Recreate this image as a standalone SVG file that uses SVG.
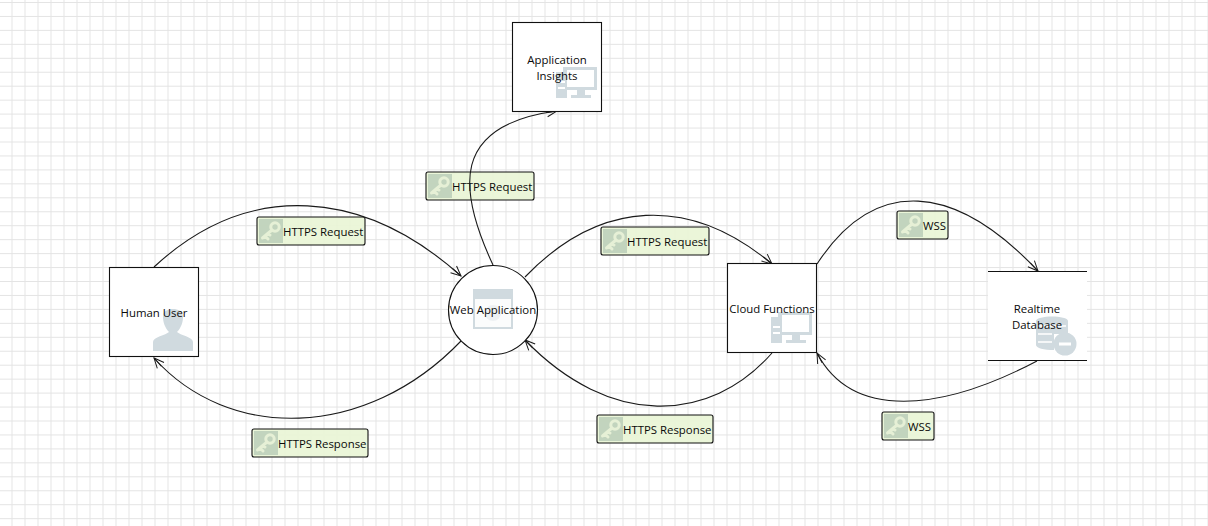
<svg xmlns="http://www.w3.org/2000/svg" width="1208" height="526" viewBox="0 0 1208 526">
<style>
text{font-family:"Segoe UI","Open Sans","Noto Sans","Liberation Sans",sans-serif;font-size:11.4px;fill:#0a0a0a;}
.c{text-anchor:middle}
.n{fill:#fff;stroke:#111;stroke-width:1.1}
.l{fill:#e9f5d6;fill-opacity:.92;stroke:#111;stroke-width:1.1}
.k{fill:#bed0ba;fill-opacity:.9}
.ks{fill:none;stroke:#e6f0d6;stroke-width:3;stroke-linecap:round}
.i{fill:#d0dadf}
.w{fill:#fff}
.ic{filter:url(#b)}
.e{fill:none;stroke:#1a1a1a;stroke-width:1.1;marker-end:url(#a)}
</style>
<defs>
<filter id="b" x="-10%" y="-10%" width="120%" height="120%"><feGaussianBlur stdDeviation="0.6"/></filter>
<pattern id="g" width="13" height="13.95" patternUnits="userSpaceOnUse" x="-0.5" y="2">
<path d="M12.5 0V14M0 0.5H13" fill="none" stroke="#e4e4e4" stroke-width="1"/>
</pattern>
<marker id="a" markerUnits="userSpaceOnUse" markerWidth="14" markerHeight="12" refX="11" refY="5" orient="auto" overflow="visible">
<path d="M1 0.5L11 5L1 9.5M0 5H11" fill="none" stroke="#1a1a1a" stroke-width="1"/>
</marker>
<g id="key">
<rect class="k" width="24" height="24"/>
<g class="ic"><circle cx="16" cy="8" r="4.2" fill="none" stroke="#e6f0d6" stroke-width="3"/>
<path class="ks" d="M13 11L3.500 19M6 17L9 20M9 14L11 16"/></g>
</g>
<g id="pc" class="ic">
<rect class="i" x="0" y="5" width="11" height="26"/>
<rect class="w" x="2" y="14" width="7" height="2"/>
<rect class="w" x="2" y="20" width="7" height="2"/>
<path class="i" fill-rule="evenodd" d="M7 0H41V23H29V28H35V31H15V28H21V23H11V5H7ZM11 3V20H38V3Z"/>
</g>
</defs>
<rect width="1208" height="526" fill="#fff"/>
<rect width="1208" height="526" fill="url(#g)"/>
<g id="labels">
<g id="label-1">
<rect class="l" x="257" y="217" width="108" height="28" rx="2"/>
<use href="#key" x="259" y="219"/>
<text x="283" y="236">HTTPS Request</text>
</g>
<g id="label-2">
<rect class="l" x="426" y="172" width="108" height="28" rx="2"/>
<use href="#key" x="428" y="174"/>
<text x="452" y="191">HTTPS Request</text>
</g>
<g id="label-3">
<rect class="l" x="601" y="227" width="108" height="28" rx="2"/>
<use href="#key" x="603" y="229"/>
<text x="627" y="246">HTTPS Request</text>
</g>
<g id="label-4">
<rect class="l" x="252" y="429" width="116" height="28" rx="2"/>
<use href="#key" x="254" y="431"/>
<text x="278" y="448">HTTPS Response</text>
</g>
<g id="label-5">
<rect class="l" x="597" y="415" width="116" height="28" rx="2"/>
<use href="#key" x="599" y="417"/>
<text x="623" y="434">HTTPS Response</text>
</g>
<g id="label-6">
<rect class="l" x="897" y="211" width="51" height="28" rx="2"/>
<use href="#key" x="899" y="213"/>
<text x="923" y="230">WSS</text>
</g>
<g id="label-7">
<rect class="l" x="882" y="412" width="52" height="28" rx="2"/>
<use href="#key" x="884" y="414"/>
<text x="908" y="431">WSS</text>
</g>
</g>
<g id="connectors">
<path class="e" d="M154 267C250 178 365 190 461 276"/>
<path class="e" d="M461 341C365 441 228 441 154 358"/>
<path class="e" d="M493 265C458 190 450 125 557 111"/>
<path class="e" d="M525 277C600 199 690 195 772 264"/>
<path class="e" d="M772 353C710 424 610 428 525 340"/>
<path class="e" d="M817 264C875 175 955 183 1038 271"/>
<path class="e" d="M1037 361C940 412 852 420 817 353"/>
</g>
<g id="human-user">
<rect class="n" x="109.500" y="267.500" width="89" height="89"/>
<path class="i ic" d="M153 351V342C153 337 166 335 169 332C165 328 163 322 163 317C163 311 168 309 173 309C178 309 183 311 183 317C183 322 181 328 177 332C180 335 193 337 193 342V351Z"/>
<text class="c" x="154" y="317">Human User</text>
</g>
<g id="web-application">
<circle class="n" cx="493" cy="310" r="44.500"/>
<g class="ic">
<rect class="i" x="473" y="289" width="40" height="40"/>
<rect class="w" x="475" y="299" width="36" height="28" opacity=".9"/>
<circle cx="493" cy="313" r="8" fill="#eef1f3"/>
</g>
<text class="c" x="493" y="314">Web Application</text>
</g>
<g id="application-insights">
<rect class="n" x="512.500" y="22.500" width="89" height="89"/>
<use href="#pc" x="556" y="67"/>
<text class="c" x="557" y="64">Application</text>
<text class="c" x="557" y="80">Insights</text>
</g>
<g id="cloud-functions">
<rect class="n" x="727.500" y="263.500" width="89" height="89"/>
<use href="#pc" x="771" y="312"/>
<text class="c" x="772" y="313">Cloud Functions</text>
</g>
<g id="realtime-database">
<rect x="988" y="271.500" width="99" height="89" fill="#fff"/>
<path d="M988 271.500H1087M988 360.500H1087" fill="none" stroke="#111" stroke-width="1.1"/>
<g class="ic">
<path class="i" d="M1036 321C1036 315 1068 315 1068 321V334H1054V350C1044 350 1036 348 1036 345Z"/>
<path d="M1038 326H1066M1038 334H1052M1038 342H1052" fill="none" stroke="#fff" stroke-width="1.500"/>
<circle class="i" cx="1065" cy="344" r="11.500"/>
<rect class="w" x="1059" y="342.500" width="12" height="3"/>
</g>
<text class="c" x="1037" y="313">Realtime</text>
<text class="c" x="1037" y="329">Database</text>
</g>
</svg>
